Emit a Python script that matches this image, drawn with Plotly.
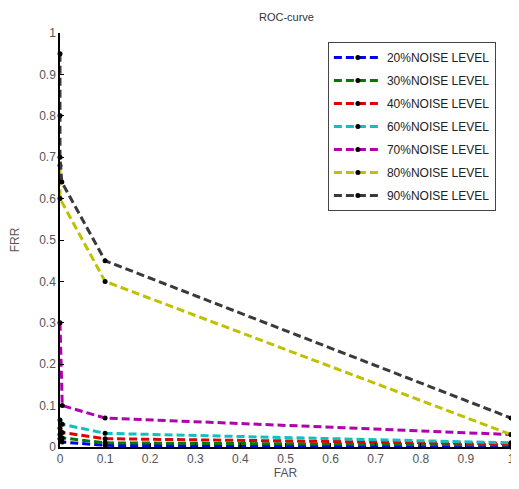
import plotly.graph_objects as go

series_names = ["20%NOISE LEVEL", "30%NOISE LEVEL", "40%NOISE LEVEL", "60%NOISE LEVEL",
                "70%NOISE LEVEL", "80%NOISE LEVEL", "90%NOISE LEVEL"]
colors = ["#0000f0", "#007a00", "#e00000", "#10c0c0", "#b000b0", "#c0c000", "#3a3a3a"]

far_20 = [0, 0.005, 0.1, 1]
frr_20 = [0.02, 0.012, 0.004, 0.0]
far_30 = [0, 0.005, 0.1, 1]
frr_30 = [0.03, 0.022, 0.01, 0.005]
far_40 = [0, 0.005, 0.1, 1]
frr_40 = [0.045, 0.035, 0.02, 0.008]
far_60 = [0, 0.005, 0.1, 1]
frr_60 = [0.065, 0.055, 0.033, 0.01]
far_70 = [0, 0.005, 0.1, 1]
frr_70 = [0.3, 0.1, 0.07, 0.03]
far_80 = [0, 0, 0.1, 1]
frr_80 = [0.68, 0.6, 0.4, 0.03]
far_90 = [0, 0, 0, 0.004, 0.1, 1]
frr_90 = [0.95, 0.8, 0.7, 0.64, 0.45, 0.07]

xs = [far_20, far_30, far_40, far_60, far_70, far_80, far_90]
ys = [frr_20, frr_30, frr_40, frr_60, frr_70, frr_80, frr_90]

ticks = [0, 0.1, 0.2, 0.3, 0.4, 0.5, 0.6, 0.7, 0.8, 0.9, 1]
tick_labels = ["0", "0.1", "0.2", "0.3", "0.4", "0.5", "0.6", "0.7", "0.8", "0.9", "1"]

fig = go.Figure()
for name, c, x, y in zip(series_names, colors, xs, ys):
    fig.add_trace(go.Scatter(
        x=x, y=y, name=name, mode="lines+markers", legendgroup=name,
        line=dict(color=c, width=3, dash="8px,4px"),
        marker=dict(color="black", size=5),
        cliponaxis=False,
    ))

axis_common = dict(
    range=[0, 1], tickvals=ticks, ticktext=tick_labels,
    ticks="inside", ticklen=4, tickcolor="black",
    showline=True, linecolor="black", linewidth=1.5,
    showgrid=False, zeroline=False, mirror=False, automargin=False,
    tickfont=dict(family="Liberation Sans, Arial", size=12, color="#555555"),
)

fig.update_layout(
    width=511, height=481,
    margin=dict(l=52, r=8, t=25, b=42),
    paper_bgcolor="white", plot_bgcolor="white",
    title=dict(text="ROC-curve", x=0.545, xanchor="center", y=0.981, yanchor="middle",
               font=dict(family="Liberation Sans, Arial", size=11, color="#333333")),
    xaxis=dict(**axis_common,
               title=dict(text="FAR", standoff=0,
                          font=dict(family="Liberation Sans, Arial", size=12, color="#555555"))),
    yaxis=dict(**axis_common,
               title=dict(text="FRR", standoff=17,
                          font=dict(family="Liberation Sans, Arial", size=12, color="#555555"))),
    legend=dict(x=0.594, y=0.978, xanchor="left", yanchor="top",
                bgcolor="white", bordercolor="#444444", borderwidth=1,
                font=dict(family="Liberation Sans, Arial", size=12, color="#222222"),
                itemwidth=48, tracegroupgap=4),
    showlegend=True,
)

fig.write_html("out.html")
